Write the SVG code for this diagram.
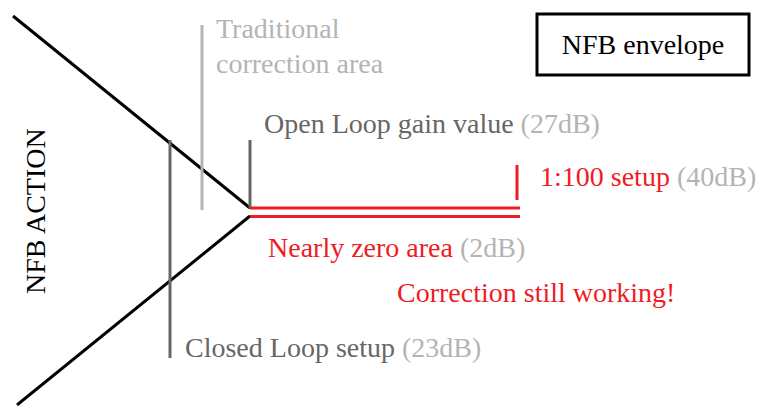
<svg xmlns="http://www.w3.org/2000/svg" width="761" height="406" viewBox="0 0 761 406">
  <style>
    text { font-family: "Liberation Serif", "Times New Roman", serif; font-size: 28px; }
    .dark { fill: #666666; }
    .light { fill: #b4b4b4; }
    .red { fill: #ee1c25; }
    .black { fill: #000000; }
    .env { stroke: #000000; stroke-width: 3; fill: none; }
    .gline { stroke: #666666; stroke-width: 3; fill: none; }
    .lline { stroke: #b4b4b4; stroke-width: 3; fill: none; }
    .rline { stroke: #ee1c25; stroke-width: 3; fill: none; }
  </style>
  <rect width="761" height="406" fill="#ffffff"/>

  <g id="connectors">
    <!-- NFB envelope: converging gain lines -->
    <line class="env" x1="13" y1="16" x2="250" y2="208"/>
    <line class="env" x1="250" y1="216" x2="17" y2="405"/>
    <!-- markers -->
    <line class="gline" x1="170" y1="140" x2="170" y2="358"/>
    <line class="lline" x1="202" y1="25" x2="202" y2="210"/>
    <line class="gline" x1="250" y1="140" x2="250" y2="208"/>
    <!-- nearly-zero band -->
    <line class="rline" x1="250" y1="208" x2="520" y2="208"/>
    <line class="rline" x1="250" y1="216.5" x2="520" y2="216.5"/>
    <line class="rline" x1="517" y1="165" x2="517" y2="200"/>
  </g>

  <g id="legend">
    <rect x="537" y="14" width="212" height="61" fill="#ffffff" stroke="#000000" stroke-width="3"/>
    <text x="643" y="54" text-anchor="middle" class="black">NFB envelope</text>
  </g>

  <g id="axis-label">
    <text transform="translate(45,294) rotate(-90)" class="black">NFB ACTION</text>
  </g>

  <g id="traditional">
    <text x="216" y="38" class="light">Traditional</text>
    <text x="216" y="73" class="light">correction area</text>
  </g>

  <g id="open-loop">
    <text x="264" y="133" class="dark">Open Loop gain value <tspan class="light">(27dB)</tspan></text>
  </g>

  <g id="setup-100">
    <text x="540" y="186" class="red">1:100 setup <tspan class="light">(40dB)</tspan></text>
  </g>

  <g id="nearly-zero">
    <text x="268" y="257" class="red">Nearly zero area <tspan class="light">(2dB)</tspan></text>
  </g>

  <g id="still-working">
    <text x="397" y="302" class="red">Correction still working!</text>
  </g>

  <g id="closed-loop">
    <text x="185" y="357" class="dark">Closed Loop setup <tspan class="light">(23dB)</tspan></text>
  </g>
</svg>
